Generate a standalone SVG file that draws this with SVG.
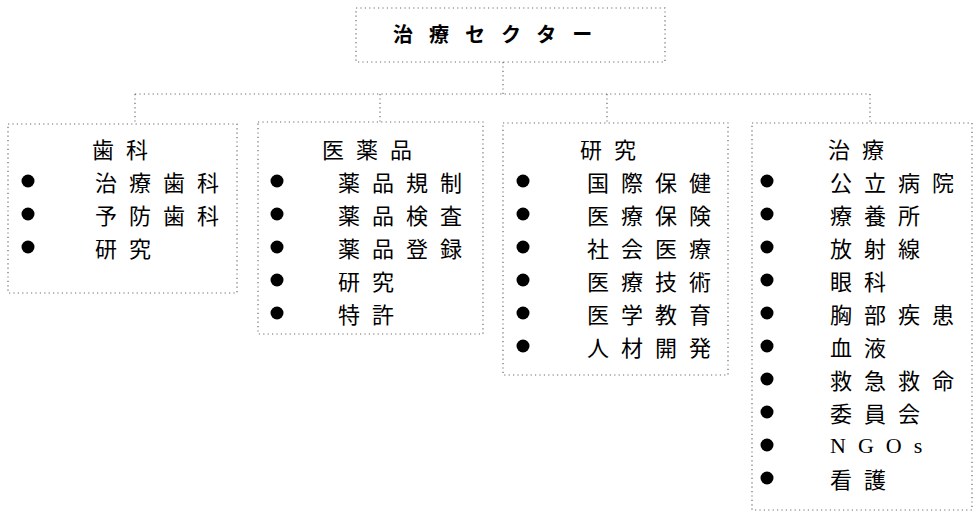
<svg xmlns="http://www.w3.org/2000/svg" width="974" height="515" viewBox="0 0 974 515">
<style>
.bg{fill:#ffffff}
.dot{fill:none;stroke:#6a6a6a;stroke-width:1.2;stroke-dasharray:1.2 3.2}
.t{font-family:"Noto Sans CJK JP","Noto Sans CJK SC",sans-serif;font-size:22px;letter-spacing:12px;fill:#000;dominant-baseline:central}
.h{font-family:"Noto Sans CJK JP","Noto Sans CJK SC",sans-serif;font-size:20px;font-weight:bold;letter-spacing:16px;fill:#000;dominant-baseline:central}
.lat{font-family:"Liberation Serif",serif;font-size:22px;letter-spacing:12px;fill:#000;dominant-baseline:central}
.b{fill:#000}
</style>
<rect class="bg" x="0" y="0" width="974" height="515"/>
<g id="connectors">
<line class="dot" x1="503" y1="62" x2="503" y2="94"/>
<line class="dot" x1="135" y1="94" x2="870" y2="94"/>
<line class="dot" x1="135" y1="94" x2="135" y2="124"/>
<line class="dot" x1="380" y1="94" x2="380" y2="122"/>
<line class="dot" x1="607" y1="94" x2="607" y2="123"/>
<line class="dot" x1="870" y1="94" x2="870" y2="123"/>
</g>
<g id="root">
<rect class="dot" x="356" y="8" width="309" height="54"/>
<text class="h" x="393" y="33">治療セクター</text>
</g>
<g id="dental">
<rect class="dot" x="8" y="124" width="229" height="169"/>
<text class="t" x="92" y="148">歯科</text>
<circle class="b" cx="28" cy="181" r="6.5"/><text class="t" x="95" y="181">治療歯科</text>
<circle class="b" cx="28" cy="214" r="6.5"/><text class="t" x="95" y="214">予防歯科</text>
<circle class="b" cx="28" cy="247" r="6.5"/><text class="t" x="95" y="247">研究</text>
</g>
<g id="pharma">
<rect class="dot" x="258" y="122" width="225" height="212"/>
<text class="t" x="322" y="148">医薬品</text>
<circle class="b" cx="277" cy="181" r="6.5"/><text class="t" x="338" y="181">薬品規制</text>
<circle class="b" cx="277" cy="214" r="6.5"/><text class="t" x="338" y="214">薬品検査</text>
<circle class="b" cx="277" cy="247" r="6.5"/><text class="t" x="338" y="247">薬品登録</text>
<circle class="b" cx="277" cy="280" r="6.5"/><text class="t" x="338" y="280">研究</text>
<circle class="b" cx="277" cy="313" r="6.5"/><text class="t" x="338" y="313">特許</text>
</g>
<g id="research">
<rect class="dot" x="503" y="123" width="225" height="252"/>
<text class="t" x="580" y="148">研究</text>
<circle class="b" cx="523" cy="181" r="6.5"/><text class="t" x="587" y="181">国際保健</text>
<circle class="b" cx="523" cy="214" r="6.5"/><text class="t" x="587" y="214">医療保険</text>
<circle class="b" cx="523" cy="247" r="6.5"/><text class="t" x="587" y="247">社会医療</text>
<circle class="b" cx="523" cy="280" r="6.5"/><text class="t" x="587" y="280">医療技術</text>
<circle class="b" cx="523" cy="313" r="6.5"/><text class="t" x="587" y="313">医学教育</text>
<circle class="b" cx="523" cy="346" r="6.5"/><text class="t" x="587" y="346">人材開発</text>
</g>
<g id="treatment">
<rect class="dot" x="752" y="123" width="220" height="387"/>
<text class="t" x="828" y="148">治療</text>
<circle class="b" cx="767" cy="181" r="6.5"/><text class="t" x="830" y="181">公立病院</text>
<circle class="b" cx="767" cy="214" r="6.5"/><text class="t" x="830" y="214">療養所</text>
<circle class="b" cx="767" cy="247" r="6.5"/><text class="t" x="830" y="247">放射線</text>
<circle class="b" cx="767" cy="280" r="6.5"/><text class="t" x="830" y="280">眼科</text>
<circle class="b" cx="767" cy="313" r="6.5"/><text class="t" x="830" y="313">胸部疾患</text>
<circle class="b" cx="767" cy="346" r="6.5"/><text class="t" x="830" y="346">血液</text>
<circle class="b" cx="767" cy="379" r="6.5"/><text class="t" x="830" y="379">救急救命</text>
<circle class="b" cx="767" cy="412" r="6.5"/><text class="t" x="830" y="412">委員会</text>
<circle class="b" cx="767" cy="445" r="6.5"/><text class="lat" x="830" y="445">NGOs</text>
<circle class="b" cx="767" cy="478" r="6.5"/><text class="t" x="830" y="478">看護</text>
</g>
</svg>
